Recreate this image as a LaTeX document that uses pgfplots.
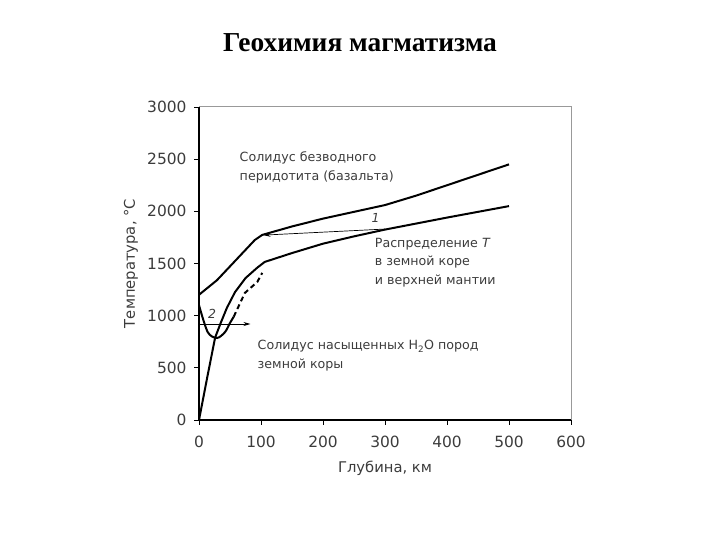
\documentclass[border=0pt]{standalone}
\usepackage{pgfplots}
\pgfplotsset{compat=1.18}
\usepackage{fontspec}
\setmainfont{DejaVu Sans}
\newfontfamily\titlefont{Liberation Serif}
\usetikzlibrary{arrows.meta}
\definecolor{txt}{HTML}{3C3C3C}
\newcommand\tickfont{\fontsize{15.5}{18}\selectfont}
\begin{document}
\begin{tikzpicture}[x=1bp,y=1bp]
\useasboundingbox (0,0) rectangle (720,540);
\node[font=\titlefont\bfseries\fontsize{27.5}{32}\selectfont] at (360,497) {Геохимия магматизма};
\begin{axis}[
  at={(199bp,120bp)}, anchor=south west,
  scale only axis, width=372bp, height=313bp,
  xmin=0, xmax=600, ymin=0, ymax=3000,
  axis lines=left, axis line style={-, black, line width=1.1pt},
  xtick={0,100,...,600}, ytick={0,500,...,3000},
  tick align=outside, major tick length=5bp,
  tick style={black, line width=0.8pt},
  xticklabel={\tickfont\pgfmathprintnumber[assume math mode=true,1000 sep={}]{\tick}},
  yticklabel={\tickfont\pgfmathprintnumber[assume math mode=true,1000 sep={}]{\tick}},
  tick label style={text=txt},
  xticklabel style={yshift=-8bp},
  yticklabel style={xshift=-4bp},
  xlabel={Глубина, км}, ylabel={Температура, °C},
  label style={text=txt, font=\fontsize{14.8}{17}\selectfont},
  xlabel style={at={(axis description cs:0.5,-0.153)}, anchor=center},
  ylabel style={at={(axis description cs:-0.183,0.5)}, anchor=center},
  clip=false,
]
% frame top/right
\draw[gray!80, line width=1pt] (axis cs:0,3000) -- (axis cs:600,3000) -- (axis cs:600,0);
% anhydrous peridotite solidus
\addplot[black, line width=2pt] coordinates {(0,1200) (29,1340) (90,1725) (102,1774) (150,1855) (200,1930) (250,1995) (300,2060) (350,2150) (400,2250) (450,2350) (500,2450)};
% geotherm
\addplot[black, line width=2pt] coordinates {(0,0) (13,400) (26,790) (35,930) (45,1075) (58,1225) (75,1360) (94,1460) (106,1515) (150,1600) (200,1690) (250,1760) (300,1825) (400,1940) (500,2050)};
% wet solidus
\addplot[black, line width=2pt, smooth] coordinates {(0,1100) (14,843) (29,786) (42,843) (50,930) (56,990)};
\addplot[black, line width=2pt, dash pattern=on 5bp off 3.5bp] coordinates {(56,990) (74,1218) (94,1323) (102,1410)};
% arrows
\addplot[black, line width=0.7pt, -{Stealth[length=7bp,width=4bp]}] coordinates {(300,1830) (104,1772)};
\addplot[black, line width=0.7pt, -{Stealth[length=7bp,width=4bp]}] coordinates {(0,920) (83,920)};
\node[text=txt, font=\itshape\fontsize{12.5}{15}\selectfont] at (axis cs:285,1937) {1};
\node[text=txt, font=\itshape\fontsize{12.5}{15}\selectfont] at (axis cs:21,1016) {2};
\node[text=txt, anchor=west, align=left, font=\fontsize{12.7}{19}\selectfont] at (axis cs:60,2420) {Солидус безводного\\перидотита (базальта)};
\node[text=txt, anchor=west, align=left, font=\fontsize{12.7}{18.5}\selectfont] at (axis cs:278,1510) {Распределение \textit{T}\\в земной коре\\и верхней мантии};
\node[text=txt, anchor=west, align=left, font=\fontsize{12.7}{18.5}\selectfont] at (axis cs:89,615) {Солидус насыщенных H\textsubscript{2}O пород\\земной коры};
\end{axis}
\end{tikzpicture}
\end{document}
